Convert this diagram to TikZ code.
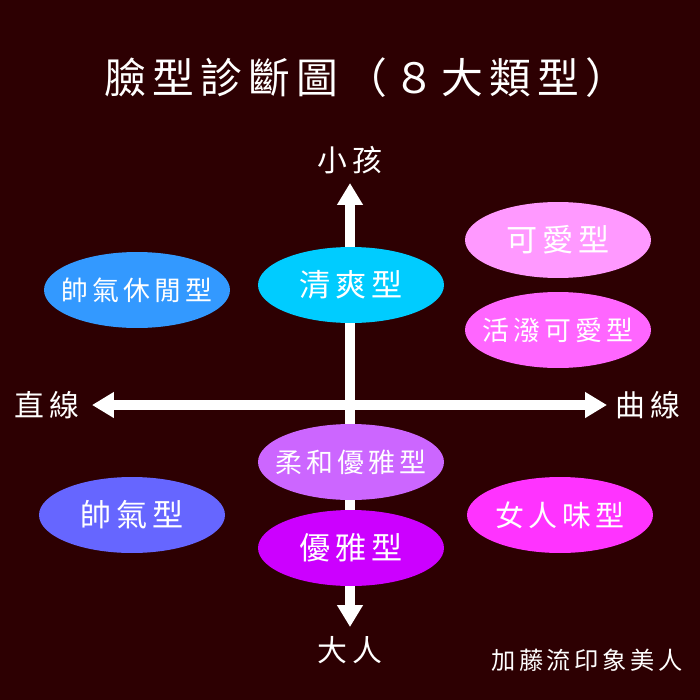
\documentclass[tikz,border=0pt]{standalone}
\usepackage{fontspec}
\setmainfont{Noto Sans CJK TC}[LetterSpace=15]
\usetikzlibrary{shapes.geometric,arrows.meta}
\definecolor{bgred}{RGB}{45,0,2}
\definecolor{skyblue}{RGB}{0,204,255}
\definecolor{midblue}{RGB}{51,153,255}
\definecolor{paleviolet}{RGB}{102,102,255}
\definecolor{lightpink}{RGB}{255,153,255}
\definecolor{hotpink}{RGB}{255,102,255}
\definecolor{magentapink}{RGB}{255,51,255}
\definecolor{lilac}{RGB}{204,102,255}
\definecolor{purple}{RGB}{204,0,255}
\begin{document}
\begin{tikzpicture}[x=0.02cm,y=-0.02cm,
  type node/.style={ellipse,minimum width=3.72cm,minimum height=1.52cm,inner xsep=-1cm,inner ysep=0pt,text=white},
  big/.style={font=\fontsize{17.7}{20}\selectfont},
  small/.style={font=\fontsize{15.3}{18}\selectfont},
  axis label/.style={text=white,font=\fontsize{17}{20}\selectfont},
  axis/.style={white,line width=5.7pt,{Triangle[width=14pt,length=12.5pt]}-{Triangle[width=14pt,length=12.5pt]}}]

  \fill[bgred] (0,0) rectangle (700,700);

  \node[text=white,font=\fontsize{23.8}{28}\selectfont] (title) at (366,78) {臉型診斷圖（８大類型）};

  \node[axis label] (kid) at (350,160) {小孩};
  \node[axis label] (adult) at (350,650) {大人};
  \node[axis label] (straight) at (47,405) {直線};
  \node[axis label] (curve) at (648,405) {曲線};

  \coordinate (t) at (350,183);
  \coordinate (b) at (350,627);
  \coordinate (l) at (92,405);
  \coordinate (r) at (607,405);

  \draw[axis] (l) -- (r);
  \draw[axis] (b) -- (t);

  \node[type node,fill=skyblue,big] (1) at (351,285) {清爽型};
  \node[type node,fill=midblue,small] (2) at (137,290) {帥氣休閒型};
  \node[type node,fill=lightpink,big] (3) at (558,240) {可愛型};
  \node[type node,fill=hotpink,small] (4) at (558,330) {活潑可愛型};
  \node[type node,fill=lilac,small] (5) at (351,462) {柔和優雅型};
  \node[type node,fill=paleviolet,big] (6) at (132,515) {帥氣型};
  \node[type node,fill=purple,big] (7) at (351,548) {優雅型};
  \node[type node,fill=magentapink,font=\fontsize{16.5}{19}\selectfont] (8) at (560,515) {女人味型};

  \node[text=white,font=\fontsize{13.8}{16}\selectfont] (sign) at (587,660) {加藤流印象美人};

\end{tikzpicture}
\end{document}
